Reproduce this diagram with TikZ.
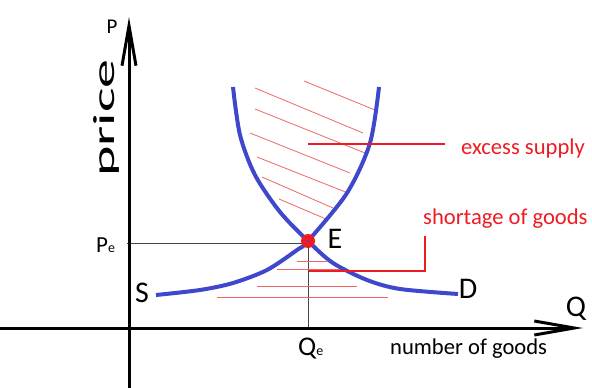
\documentclass[tikz,border=0pt]{standalone}
\usepackage{fontspec}
\setmainfont{Carlito}
\usepackage{graphicx}
\usetikzlibrary{arrows.meta}
\definecolor{curveblue}{RGB}{63,72,204}
\definecolor{pred}{RGB}{237,28,36}
\definecolor{hatch}{RGB}{242,100,100}
\definecolor{guidegray}{RGB}{70,70,70}
\begin{document}
\begin{tikzpicture}[x=1pt,y=-1pt,
  axis/.style={line width=3pt,-{Straight Barb[length=40pt,width=14pt]}},
  guide/.style={guidegray,line width=0.9pt},
  curve/.style={curveblue,line width=4pt},
  hatchline/.style={hatch,line width=0.8pt},
  pointer/.style={pred,line width=2pt},
  lbl/.style={font=\fontsize{30}{30}\selectfont,inner sep=0pt},
  txt/.style={font=\fontsize{22.6}{22.6}\selectfont,inner sep=0pt},
]
\useasboundingbox (0,0) rectangle (592,388);
% axes
\coordinate (ybot) at (129,388);
\coordinate (ytop) at (129,17);
\coordinate (xl) at (0,328);
\coordinate (xr) at (583,328);
\coordinate (E) at (308,241);
% guides
\coordinate (pe0) at (127,243);
\coordinate (pe1) at (308,243);
\coordinate (qe0) at (308,328);
\draw[guide] (pe0) -- (pe1);
\draw[guide] (E) -- (qe0);
% hatch upper
\foreach \a/\b/\c/\d in {304/81/375/110, 255/88/363/133, 255/109/365/153, 250/133/350/173, 257/157/348/193, 262/177/333/208, 279/199/326/219}
  {\draw[hatchline] (\a,\b) -- (\c,\d);}
% hatch lower
\foreach \a/\b/\c/\d in {297/261/327/261, 277/269/347/269, 257/286/357/286, 217/297/388/297}
  {\draw[hatchline] (\a,\b) -- (\c,\d);}
% axes
\draw[axis] (ybot) -- (ytop);
\draw[axis] (xl) -- (xr);
% curves
\draw[curve] plot[smooth] coordinates {(156,295) (200,290) (233,283) (267,270) (297,250) (308,241) (347,193) (370,143) (379,87)};
\draw[curve] plot[smooth] coordinates {(233,87) (240,135) (255,175) (280,212) (308,241) (333,263) (367,280) (400,289) (458,294)};
% equilibrium
\node[circle,fill=pred,minimum size=14pt,inner sep=0pt] (Edot) at (E) {};
\fill[curveblue] (E) circle (1.2pt);
% labels
\node[lbl] (Slbl) at (142,293) {S};
\node[lbl] (Dlbl) at (468,289) {D};
\node[lbl] (Elbl) at (335,239) {E};
\node[lbl] (Qlbl) at (576,309) {Q};
\node[font=\fontsize{21}{21}\selectfont,inner sep=0pt] (Plbl) at (112,27) {P};
\node[anchor=base west,inner sep=0pt] (Qe) at (298,355) {\fontsize{27}{27}\selectfont Q\fontsize{14}{14}\selectfont e};
\node[anchor=base west,inner sep=0pt] (Pe) at (96,252) {\fontsize{23}{23}\selectfont P\fontsize{14}{14}\selectfont e};
\node[txt,anchor=west] (nog) at (390,349) {number of goods};
\node[rotate=90,inner sep=0pt] (price) at (106,118) {\scalebox{2}[1.05]{\fontsize{29}{29}\selectfont price}};
\node[txt,anchor=west,text=pred] (excess) at (461,148) {excess supply};
\node[txt,anchor=west,text=pred] (short) at (423,219) {shortage of goods};
% pointers
\coordinate (es1) at (308,144);
\coordinate (es2) at (445,144);
\draw[pointer] (es1) -- (es2);
\coordinate (sh1) at (309,271);
\coordinate (sh2) at (425,271);
\coordinate (sh3) at (425,236);
\draw[pointer] (sh1) -- (sh2) -- (sh3);
\end{tikzpicture}
\end{document}
